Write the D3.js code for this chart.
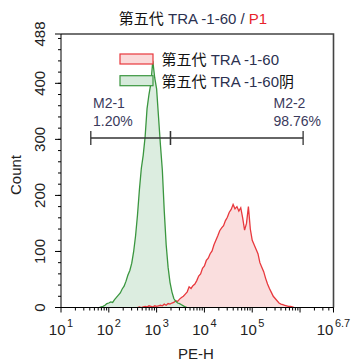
<!DOCTYPE html>
<html><head><meta charset="utf-8">
<script src="https://cdn.jsdelivr.net/npm/d3@7"></script>
<style>
body{margin:0;background:#fff;}
svg text{font-family:"Liberation Sans","Noto Sans CJK SC",Arial,sans-serif;}
</style></head>
<body><svg id="c" width="352" height="363"></svg>
<script>
// ---- data ----
const yTickValues = [0, 100, 200, 300, 400, 488];
const xTickExponents = ["1", "2", "3", "4", "5", "6.7"];
const seriesNames = ["第五代 TRA -1-60", "第五代 TRA -1-60阴"];
const channelStep = 0.04; // log10 decades per channel
const redStartLog = 2.60;
const redCounts = [0,1,0,1,2,1,3,2,1,3,2,3,4,3,6,4,7,6,8,9,12,11,15,18,20,24,28,37,34,39,42,48,56,60,70,74,84,88,96,101,112,120,128,137,142,146,155,161,170,175,184,176,180,172,178,160,138,150,180,140,120,112,104,96,80,72,64,52,42,34,27,20,16,12,8,6,5,4,3,2,2,1,0];
const greenStartLog = 1.80;
const greenCounts = [0,1,2,4,7,8,10,9,14,18,22,26,33,38,47,58,66,79,100,128,165,210,248,272,305,355,380,400,440,410,390,340,290,245,172,112,72,45,28,16,11,8,7,5,3,1,0];
const gates = [{name:"M2-1", pct:"1.20%", lo:42, hi:1950}, {name:"M2-2", pct:"98.76%", lo:1950, hi:1160000}];

// ---- layout ----
const svg = d3.select("#c");
const L = 61, R = 333.5, T = 34, B = 307.5;
const x = d3.scaleLog().domain([10, Math.pow(10, 6.7)]).range([L, R]);
const y = d3.scaleLinear().domain([0, 488]).range([B, T]);

function toPts(start, counts){
  return counts.map((c,i)=>({v:Math.pow(10, start + i*channelStep), c}));
}
const red = toPts(redStartLog, redCounts);
const green = toPts(greenStartLog, greenCounts);

const area = d3.area().x(d=>x(d.v)).y0(y(0)).y1(d=>y(d.c));
const line = d3.line().x(d=>x(d.v)).y(d=>y(d.c));

const g = svg.append("g");
g.append("path").datum(red).attr("d", area).attr("fill", "#fadada").attr("fill-opacity", 0.9);
g.append("path").datum(green).attr("d", area).attr("fill", "#d6eadb").attr("fill-opacity", 0.85);
g.append("path").datum(red).attr("d", line).attr("fill", "none").attr("stroke", "#e8383d").attr("stroke-width", 1.3);
g.append("path").datum(green).attr("d", line).attr("fill", "none").attr("stroke", "#3a963f").attr("stroke-width", 1.3);

// frame top/right
svg.append("path").attr("d", `M${L},${T}H${R}V${B}`).attr("fill","none").attr("stroke","#444").attr("stroke-width",1.6);

// y axis
const yMinor = d3.range(0, 489, 20);
svg.append("line").attr("x1",L).attr("x2",L).attr("y1",T).attr("y2",B).attr("stroke","#000");
yMinor.forEach(v=>svg.append("line").attr("x1",L-3).attr("x2",L).attr("y1",y(v)).attr("y2",y(v)).attr("stroke","#000"));
yTickValues.forEach(v=>{
  svg.append("line").attr("x1",L-6).attr("x2",L).attr("y1",y(v)).attr("y2",y(v)).attr("stroke","#000");
  svg.append("text").attr("transform",`translate(44.5,${y(v)}) rotate(-90)`).attr("text-anchor","middle")
    .attr("font-size",15).attr("fill","#222").text(v);
});
svg.append("text").attr("transform",`translate(20.5,175) rotate(-90)`).attr("text-anchor","middle")
  .attr("font-size",15).attr("fill","#222").text("Count");

// x axis
svg.append("line").attr("x1",L).attr("x2",R).attr("y1",B).attr("y2",B).attr("stroke","#000");
for(let e=1;e<=6;e++){
  for(let m=1;m<=9;m++){
    const v = m*Math.pow(10,e);
    if(v>Math.pow(10,6.7)) continue;
    svg.append("line").attr("x1",x(v)).attr("x2",x(v)).attr("y1",B).attr("y2",B+(m===1?5:3)).attr("stroke","#000");
  }
}
svg.append("line").attr("x1",R).attr("x2",R).attr("y1",B).attr("y2",B+5).attr("stroke","#000");
xTickExponents.forEach(ex=>{
  const t = svg.append("text").attr("y",335).attr("font-size",15).attr("fill","#222").attr("text-anchor","middle");
  t.append("tspan").text("10");
  t.append("tspan").attr("dx",1.5).attr("dy",-8).attr("font-size",11).text(ex);
  t.attr("x", x(Math.pow(10, +ex)));
});
svg.append("text").attr("x",196).attr("y",358.5).attr("text-anchor","middle").attr("font-size",15).attr("fill","#222").text("PE-H");

// title
const title = svg.append("text").attr("x",193).attr("y",24).attr("text-anchor","middle").attr("font-size",15);
title.append("tspan").attr("fill","#111").text("第五代 ");
title.append("tspan").attr("fill","#2b3150").text("TRA -1-60 / ");
title.append("tspan").attr("fill","#e8232a").text("P1");

// legend
const legColors = [{fill:"#fadada",stroke:"#e8383d"},{fill:"#d6eadb",stroke:"#3a963f"}];
seriesNames.forEach((n,i)=>{
  const yy = 54 + i*21.7;
  svg.append("rect").attr("x",120).attr("y",yy).attr("width",33).attr("height",10)
    .attr("fill",legColors[i].fill).attr("stroke",legColors[i].stroke).attr("stroke-width",1.2);
  const t = svg.append("text").attr("x",161.5).attr("y",yy+11).attr("font-size",15);
  const m = n.match(/^(第五代 )(TRA -1-60)(.*)$/);
  t.append("tspan").attr("fill","#111").text(m[1]);
  t.append("tspan").attr("fill","#2b3150").text(m[2]);
  if(m[3]) t.append("tspan").attr("fill","#111").text(m[3]);
});

// gates
const gy = 138;
gates.forEach((gt,i)=>{
  svg.append("line").attr("x1",x(gt.lo)).attr("x2",x(gt.hi)).attr("y1",gy).attr("y2",gy).attr("stroke","#333").attr("stroke-width",1.3);
  [gt.lo, gt.hi].forEach(v=>svg.append("line").attr("x1",x(v)).attr("x2",x(v)).attr("y1",gy-7).attr("y2",gy+7).attr("stroke","#333").attr("stroke-width",1.3));
  const lx = i===0 ? 93 : 273.5;
  svg.append("text").attr("x",lx).attr("y",108).attr("font-size",14).attr("fill","#3a3a5c").text(gt.name);
  svg.append("text").attr("x",lx).attr("y",126).attr("font-size",14).attr("fill","#3a3a5c").text(gt.pct);
});
</script></body></html>
